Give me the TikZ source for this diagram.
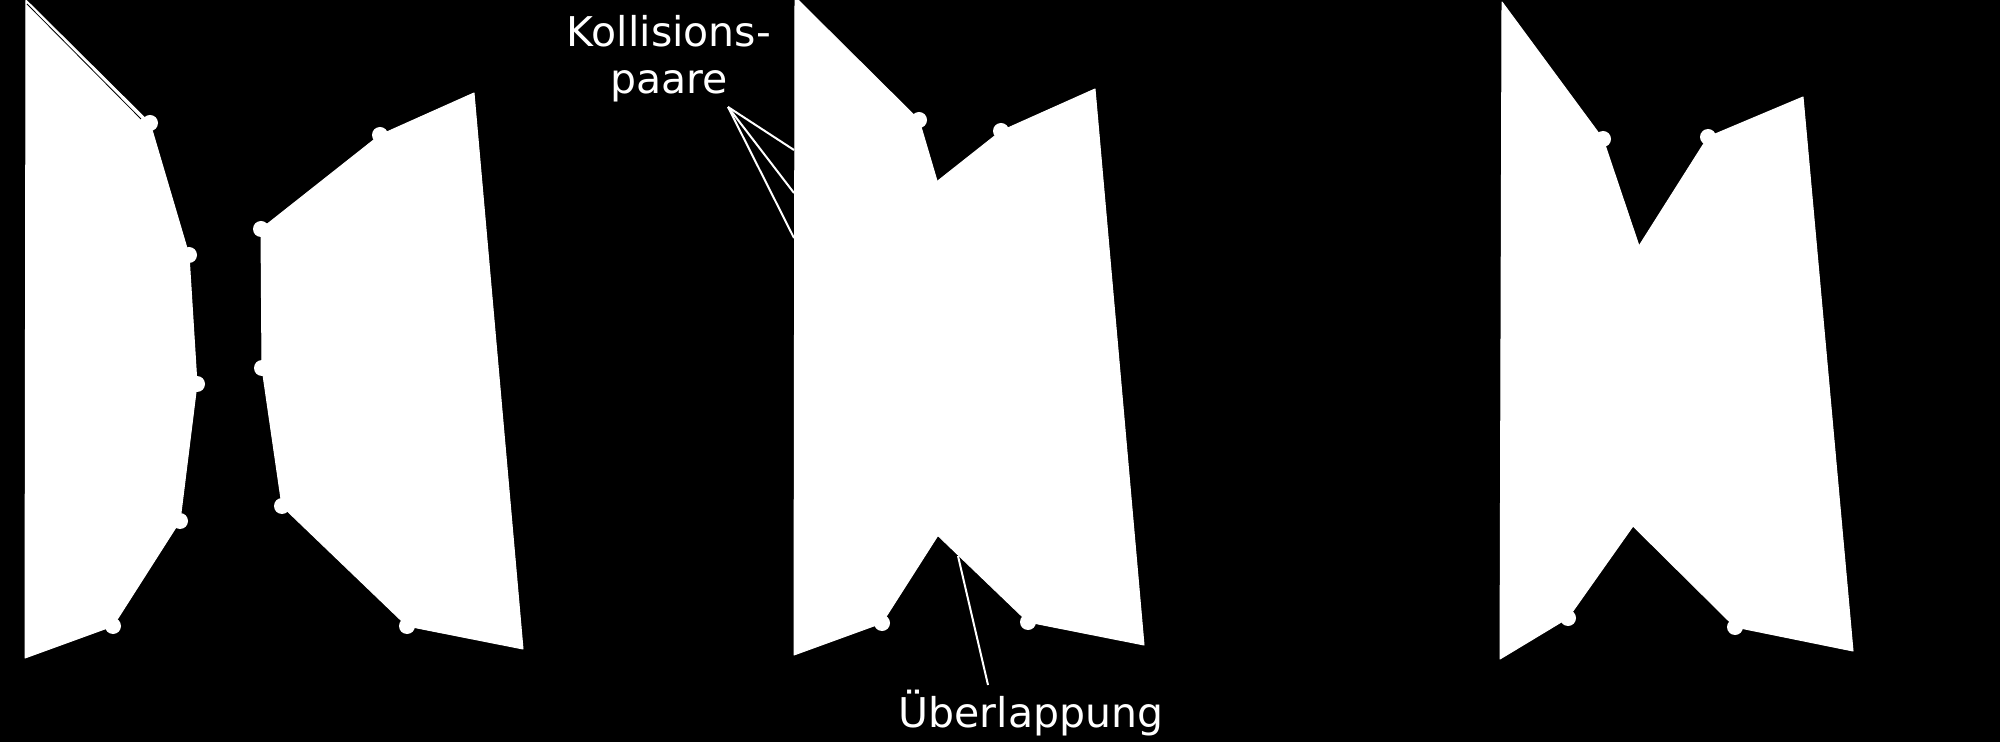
\documentclass[tikz,border=0pt]{standalone}
\usepackage{fontspec}
\setmainfont{DejaVu Sans}
\tikzset{
	body/.style={fill=white,draw=white,line width=0.5pt,line join=round},
	vertex/.style={circle,inner sep=0pt,minimum size=8pt,fill=white},
	callout/.style={draw=white,line width=1pt},
	tag/.style={text=white,inner sep=0pt,align=center,font=\fontsize{20.5}{23.8}\selectfont}
	}

\begin{document}
\begin{tikzpicture}[x=0.5pt,y=-0.5pt]
	\fill[black] (0,0) rectangle (2000,742);
	\useasboundingbox (0,0) rectangle (2000,742);

	% before and during the collision: same two bodies, shifted
	\foreach \lx/\ly/\rx/\ry/\n in {0/0/0/0/a, 769/-3/621/-4/b} {
		\begin{scope}[shift={(\lx,\ly)}]
			\filldraw[body] (26,0) -- (150,123) -- (189,255) -- (197,384) -- (180,521) -- (113,626) -- (25,658) -- cycle;
			\foreach \p [count=\k] in {(150,123),(189,255),(197,384),(180,521),(113,626)}
				\node[vertex] (\n l\k) at \p {};
		\end{scope}
		\begin{scope}[shift={(\rx,\ry)}]
			\filldraw[body] (474,93) -- (380,135) -- (261,229) -- (262,368) -- (282,506) -- (407,626) -- (523,649) -- cycle;
			\foreach \p [count=\k] in {(380,135),(261,229),(262,368),(282,506),(407,626)}
				\node[vertex] (\n r\k) at \p {};
		\end{scope}
	}
	\draw[black,line width=0.4pt] (27,4) -- (141,119);

	% after resolving
	\filldraw[body] (1502,2) -- (1603,139) -- (1639,246) -- (1665,390) -- (1633,526) -- (1568,618) -- (1500,659) -- cycle;
	\filldraw[body] (1803,97) -- (1708,137) -- (1639,246) -- (1610,390) -- (1633,526) -- (1735,627) -- (1853,651) -- cycle;
	\node[vertex] (cl1) at (1603,139) {};
	\node[vertex] (cl2) at (1568,618) {};
	\node[vertex] (cr1) at (1708,137) {};
	\node[vertex] (cr2) at (1735,627) {};

	% labels
	\node[tag,anchor=base] (kp) at (669,94) {Kollisions-\\paare};
	\node[tag,anchor=base] (ue) at (1031,727) {Überlappung};

	\coordinate (kpfoot) at (728,107);
	\coordinate (k1) at (794,150);
	\coordinate (k2) at (794,193);
	\coordinate (k3) at (794,238);
	\foreach \c in {k1,k2,k3}
		\draw[callout] (kpfoot) -- (\c);

	\coordinate (ov) at (958,556);
	\coordinate (uefoot) at (988,685);
	\draw[callout] (ov) -- (uefoot);
\end{tikzpicture}
\end{document}
